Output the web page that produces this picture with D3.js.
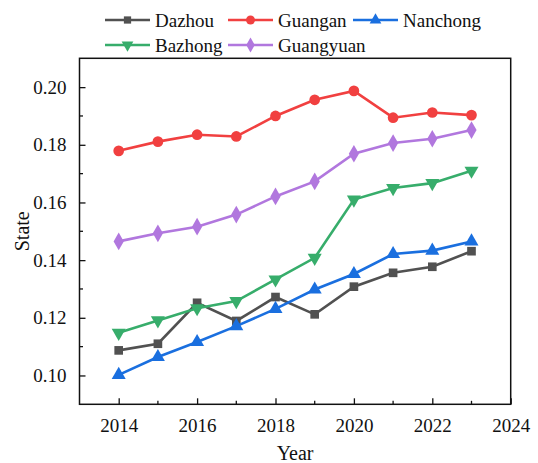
<!DOCTYPE html>
<html><head><meta charset="utf-8">
<script src="https://cdn.jsdelivr.net/npm/d3@7"></script>
<style>body{margin:0;background:#fff}svg{display:block}text{font-family:"Liberation Serif","Times New Roman",serif;fill:#111}</style>
</head><body><div id="c"></div>
<script>
const years = [2014,2015,2016,2017,2018,2019,2020,2021,2022,2023];
const dazhou    = [0.1087,0.1110,0.1252,0.1189,0.1272,0.1212,0.1308,0.1356,0.1377,0.1431];
const guangan   = [0.1779,0.1811,0.1835,0.1829,0.1900,0.1956,0.1987,0.1894,0.1912,0.1903];
const nanchong  = [0.1002,0.1064,0.1116,0.1171,0.1231,0.1298,0.1352,0.1421,0.1433,0.1465];
const bazhong   = [0.1148,0.1191,0.1233,0.1258,0.1333,0.1408,0.1610,0.1650,0.1667,0.1710];
const guangyuan = [0.1465,0.1493,0.1516,0.1558,0.1621,0.1673,0.1769,0.1806,0.1821,0.1851];
const seriesNames = ["Dazhou","Guangan","Nanchong","Bazhong","Guangyuan"];
const xTicks = [2014,2016,2018,2020,2022,2024];
const yTicks = [0.10,0.12,0.14,0.16,0.18,0.20];

const colors = ["#515151","#F14040","#1A6FDF","#37AD6B","#B177DE"];
const symbols = [d3.symbolSquare, d3.symbolCircle, d3.symbolTriangle, d3.symbolTriangle, d3.symbolDiamond];
const symSizes = [75, 90, 85, 85, 90];
const rotations = [0,0,0,180,0];
const allVals = [dazhou,guangan,nanchong,bazhong,guangyuan];

const W=538,H=463;
const m={l:79.5,r:538-510.7,t:58.3,b:463-404.3};
const svg=d3.select("#c").append("svg").attr("width",W).attr("height",H);
const x=d3.scaleLinear().domain([2013,2024]).range([m.l,W-m.r]);
const y=d3.scaleLinear().domain([0.09,0.21]).range([H-m.b,m.t]);

// axes with inward ticks
const fs=19;
const xAxis=d3.axisBottom(x).tickValues(xTicks).tickFormat(d3.format("d")).tickSize(-6).tickPadding(14);
const gx=svg.append("g").attr("transform",`translate(0,${H-m.b})`).call(xAxis);
const yAxis=d3.axisLeft(y).tickValues(yTicks).tickFormat(d3.format(".2f")).tickSize(-6).tickPadding(13);
const gy=svg.append("g").attr("transform",`translate(${m.l},0)`).call(yAxis);
[gx,gy].forEach(g=>{
  g.select(".domain").remove();
  g.selectAll(".tick line").attr("stroke","#111").attr("stroke-width",1.3);
  g.selectAll(".tick text").style("font-family",'"Liberation Serif",serif').style("font-size",fs+"px").attr("fill","#111");
});
// minor ticks
const minorX=d3.range(2015,2024,2);
svg.append("g").selectAll("line").data(minorX).join("line")
  .attr("x1",d=>x(d)).attr("x2",d=>x(d)).attr("y1",H-m.b).attr("y2",H-m.b-3.5)
  .attr("stroke","#111").attr("stroke-width",1.3);
const minorY=[0.11,0.13,0.15,0.17,0.19];
svg.append("g").selectAll("line").data(minorY).join("line")
  .attr("y1",d=>y(d)).attr("y2",d=>y(d)).attr("x1",m.l).attr("x2",m.l+3.5)
  .attr("stroke","#111").attr("stroke-width",1.3);

// frame
svg.append("rect").attr("x",m.l).attr("y",m.t).attr("width",W-m.r-m.l).attr("height",H-m.b-m.t)
  .attr("fill","none").attr("stroke","#111").attr("stroke-width",1.5);

// lines
const line=d3.line().x((d,i)=>x(years[i])).y(d=>y(d));
allVals.forEach((vals,k)=>{
  const g=svg.append("g");
  g.append("path").attr("d",line(vals)).attr("fill","none").attr("stroke",colors[k]).attr("stroke-width",2.6);
  g.selectAll("path.m").data(vals).join("path").attr("class","m")
    .attr("d",d3.symbol(symbols[k],symSizes[k]))
    .attr("transform",(d,i)=>`translate(${x(years[i])},${y(d)}) rotate(${rotations[k]})`)
    .attr("fill",colors[k]);
});

// legend
const legX=[105,228,353];
const legPos=[[0,0],[1,0],[2,0],[0,1],[1,1]];
seriesNames.forEach((name,k)=>{
  const lx=legX[legPos[k][0]], ly=20+legPos[k][1]*25;
  const g=svg.append("g");
  g.append("line").attr("x1",lx).attr("x2",lx+45).attr("y1",ly).attr("y2",ly).attr("stroke",colors[k]).attr("stroke-width",2.6);
  g.append("path").attr("d",d3.symbol(symbols[k],symSizes[k]*0.7)).attr("transform",`translate(${lx+22.5},${ly}) rotate(${rotations[k]})`).attr("fill",colors[k]);
  g.append("text").attr("x",lx+50).attr("y",ly).attr("dy","0.35em").style("font-size",fs+"px").text(name);
});

// axis titles
svg.append("text").attr("x",(m.l+W-m.r)/2).attr("y",460).attr("text-anchor","middle").style("font-size","20px").text("Year");
svg.append("text").attr("transform",`translate(29,${(m.t+H-m.b)/2}) rotate(-90)`).attr("text-anchor","middle").style("font-size","20px").text("State");
</script></body></html>
